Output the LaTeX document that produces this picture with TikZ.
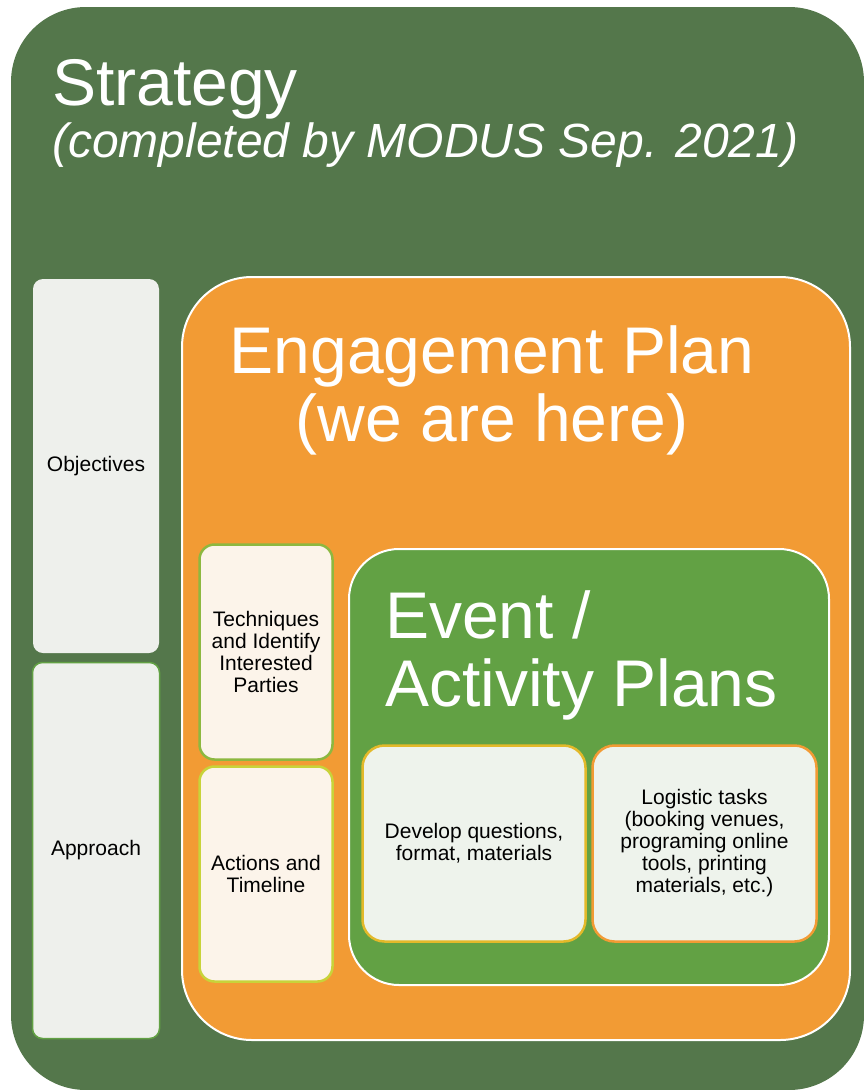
\documentclass[tikz,border=0pt]{standalone}
\usepackage{fontspec}
\setmainfont{Liberation Sans}
\definecolor{stratgreen}{RGB}{84,119,75}
\definecolor{engorange}{RGB}{242,155,52}
\definecolor{evgreen}{RGB}{98,161,68}
\definecolor{panelgray}{RGB}{238,240,236}
\definecolor{cream}{RGB}{252,244,234}
\definecolor{leafline}{RGB}{141,184,64}
\definecolor{limeline}{RGB}{200,211,58}
\definecolor{goldline}{RGB}{227,185,42}
\definecolor{paneltint}{RGB}{238,243,236}
\begin{document}
\begin{tikzpicture}[x=1pt, y=-1pt,
  area/.style = {rounded corners=#1, inner sep=0pt},
  pane/.style = {area=#1, align=center, text=black, font=\fontsize{21}{22}\selectfont},
  bigtitle/.style = {text=white, align=left, inner sep=0pt, font=\fontsize{66}{68}\selectfont}]
\useasboundingbox (0,0) rectangle (864,1090);
% outer strategy frame
\node[area=75, fill=stratgreen, minimum width=853, minimum height=1083] (strategy) at (437.5,548.5) {};
\node[text=white, anchor=base west, inner sep=0pt, font=\fontsize{66}{66}\selectfont] (strattitle) at (52,105) {Strategy};
\node[text=white, anchor=base west, inner sep=0pt, font=\fontsize{48}{52}\selectfont\itshape] (stratnote) at (52,157)
  {(completed by MODUS Sep. 2021)};
% left column
\node[pane=10, fill=panelgray, minimum width=126, minimum height=374] (objectives) at (96,466) {Objectives};
\node[pane=10, fill=panelgray, draw=evgreen, line width=1.5, minimum width=127, minimum height=376] (approach) at (96,850.5) {Approach};
% engagement plan
\node[area=70, fill=engorange, draw=white, line width=2, minimum width=668, minimum height=763] (engagement) at (516,658.5) {};
\node[bigtitle, align=center] (engtitle) at (492,390) {Engagement Plan\\(we are here)};
\node[pane=15, fill=cream, draw=leafline, line width=2.5, minimum width=133, minimum height=215] (techniques) at (266,652)
  {Techniques\\and Identify\\Interested\\Parties};
\node[pane=15, fill=cream, draw=limeline, line width=2.5, minimum width=133, minimum height=215] (actions) at (266,874)
  {Actions and\\Timeline};
% event / activity plans
\node[area=50, fill=evgreen, draw=white, line width=2, minimum width=480, minimum height=436] (event) at (589,767) {};
\node[bigtitle, anchor=north west] (evtitle) at (385,590) {Event /\\Activity Plans};
\node[pane=22, fill=paneltint, draw=goldline, line width=2.5, minimum width=223, minimum height=196] (develop) at (474,843.5)
  {Develop questions,\\format, materials};
\node[pane=22, fill=paneltint, draw=engorange, line width=2.5, minimum width=224, minimum height=196] (logistic) at (704.5,843.5)
  {Logistic tasks\\(booking venues,\\programing online\\tools, printing\\materials, etc.)};
\end{tikzpicture}
\end{document}
